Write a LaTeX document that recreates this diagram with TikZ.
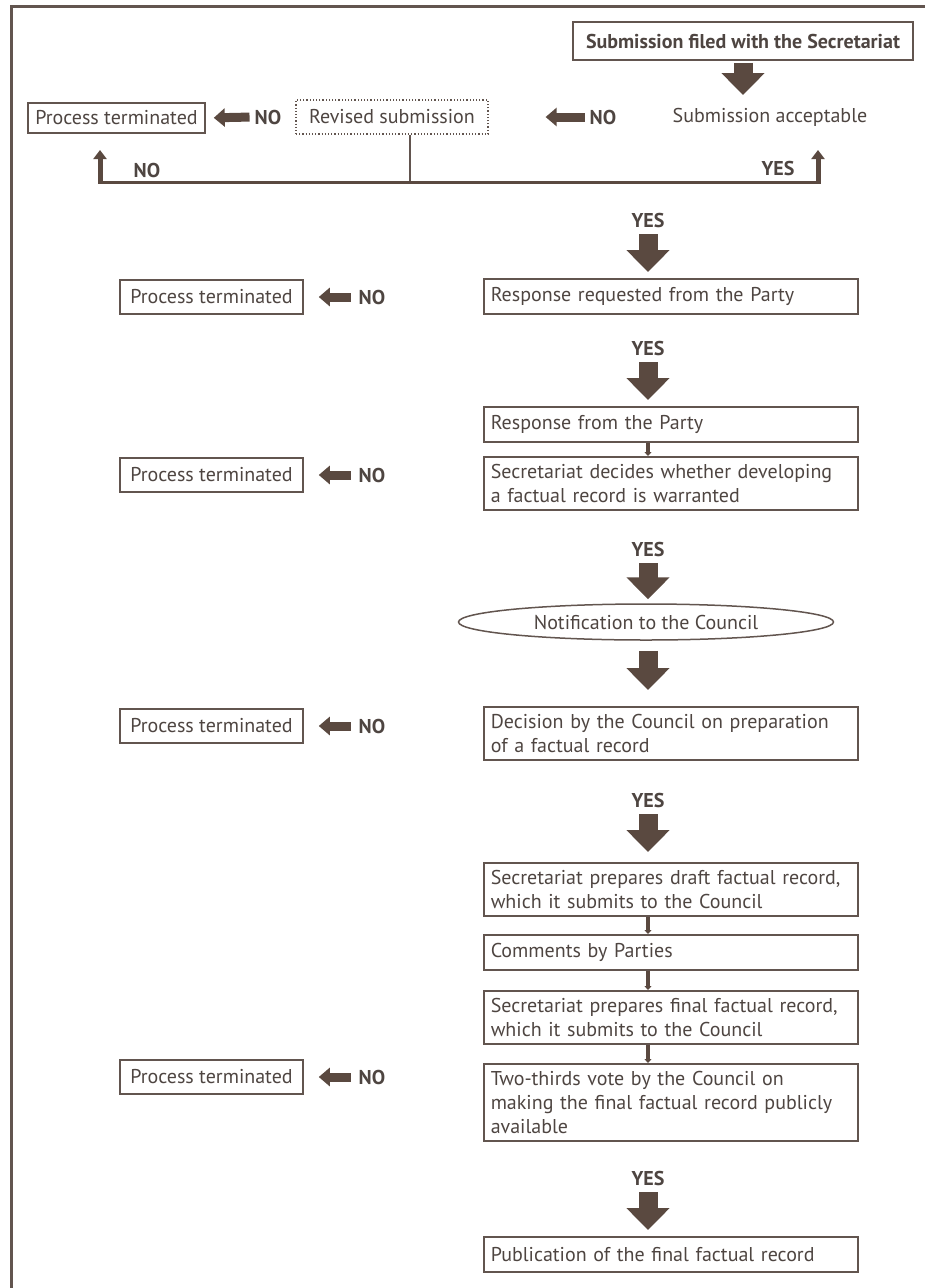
\documentclass[tikz,border=0pt]{standalone}
\usepackage{fontspec}
\setmainfont{PT Sans}
\usetikzlibrary{arrows.meta,shapes.geometric}

\definecolor{ink}{HTML}{4E4541}
\definecolor{edge}{HTML}{62554F}
\definecolor{tip}{HTML}{5A4940}

\newcommand{\boxfont}{\fontsize{20}{24}\selectfont}

\tikzset{
  stepbox/.style={draw=edge, line width=1.5pt, text=ink, anchor=north west, align=left,
    text width=360pt, inner xsep=7pt, inner ysep=7.5pt, minimum height=35pt},
  endbox/.style={draw=edge, line width=1.5pt, text=ink, minimum width=183pt, minimum height=34pt, inner sep=3pt},
  flag/.style={text=ink, font=\boxfont\bfseries, inner sep=2pt},
  bigarrow/.style={draw=tip, line width=19pt, -{Triangle[width=42pt,length=22pt]}},
  noarrow/.style={draw=tip, line width=9pt, -{Triangle[width=18pt,length=11pt]}},
  uparrow/.style={draw=tip, line width=5pt, -{Triangle[width=13pt,length=9pt]}},
  link/.style={draw=tip, line width=4pt, -{Triangle[width=7pt,length=4pt]}}
}

\begin{document}
\begin{tikzpicture}[x=1pt,y=1pt,yscale=-1,font=\boxfont]
  \useasboundingbox (0,0) rectangle (925,1288);
  \draw[edge, line width=3pt] (11,1288) -- (11,6) -- (925,6);

  % top part
  \node[draw=edge, line width=1.5pt, text=ink, font=\boxfont\bfseries, minimum width=340pt, minimum height=38pt, inner sep=2pt] (sub) at (743,41) {Submission filed with the Secretariat};
  \node[text=ink] (acc) at (770,117) {Submission acceptable};
  \node[draw=edge, line width=1.2pt, dotted, text=ink, minimum width=192pt, minimum height=34pt] (rev) at (392,117) {Revised submission};
  \node[endbox, minimum width=177pt, minimum height=30pt] (pt0) at (116.5,118) {Process terminated};
  \node[flag] (no0) at (268,117) {NO};
  \node[flag] (no1) at (603,117) {NO};
  \node[flag] (no2) at (147,170) {NO};
  \node[flag] (yes0) at (778,168) {YES};
  \coordinate (fork) at (410,182);
  \coordinate (cl) at (100,182);
  \coordinate (cr) at (818,182);
  \coordinate (tl) at (100,150);
  \coordinate (tr) at (818,150);

  \draw[bigarrow, shorten <=2pt] (sub.south -| 743,0) -- (743,95);
  \draw[noarrow, shorten <=3pt, shorten >=8pt] (no0.west) -- (pt0.east);
  \draw[noarrow, shorten <=3pt, shorten >=57pt] (no1.west) -- (rev.east);
  \draw[edge, line width=1.5pt] (rev.south -| fork) -- (fork);
  \draw[tip, line width=3pt] (cl) -- (cr);
  \draw[uparrow] ([yshift=1.5pt]cl) -- (tl);
  \draw[uparrow] ([yshift=1.5pt]cr) -- (tr);

  % main column
  \coordinate (spine) at (648,0);
  \node[flag] (y1) at (648,220) {YES};
  \node[stepbox] (b1) at (483,278) {Response requested from the Party};
  \node[flag] (y2) at (648,348) {YES};
  \node[stepbox] (b2) at (483,406) {Response from the Party};
  \node[stepbox] (b3) at (483,456) {Secretariat decides whether developing\\a factual record is warranted};
  \node[flag] (y3) at (648,549) {YES};
  \node[draw=edge, line width=1.5pt, ellipse, text=ink, minimum width=375pt, minimum height=36pt, inner sep=0pt] (ell) at (646,622) {Notification to the Council};
  \node[stepbox] (b4) at (483,706) {Decision by the Council on preparation\\of a factual record};
  \node[flag] (y4) at (648,800) {YES};
  \node[stepbox] (b5) at (483,862) {Secretariat prepares draft factual record,\\which it submits to the Council};
  \node[stepbox] (b6) at (483,934) {Comments by Parties};
  \node[stepbox] (b7) at (483,990) {Secretariat prepares final factual record,\\which it submits to the Council};
  \node[stepbox] (b8) at (483,1063) {Two-thirds vote by the Council on\\making the final factual record publicly\\available};
  \node[flag] (y5) at (648,1178) {YES};
  \node[stepbox] (b9) at (483,1236) {Publication of the final factual record};

  \draw[bigarrow, shorten <=5pt, shorten >=6pt] (y1.south) -- (y1.south |- b1.north);
  \draw[bigarrow, shorten <=5pt, shorten >=6pt] (y2.south) -- (y2.south |- b2.north);
  \draw[link] (b2.south -| spine) -- (b3.north -| spine);
  \draw[bigarrow, shorten <=5pt, shorten >=4pt] (y3.south) -- (y3.south |- ell.north);
  \draw[bigarrow, shorten <=10pt, shorten >=16pt] (ell.south -| spine) -- (b4.north -| spine);
  \draw[bigarrow, shorten <=5pt, shorten >=10pt] (y4.south) -- (y4.south |- b5.north);
  \draw[link] (b5.south -| spine) -- (b6.north -| spine);
  \draw[link] (b6.south -| spine) -- (b7.north -| spine);
  \draw[link] (b7.south -| spine) -- (b8.north -| spine);
  \draw[bigarrow, shorten <=5pt, shorten >=6pt] (y5.south) -- (y5.south |- b9.north);

  % terminations on the left
  \foreach \n/\row in {1/297, 2/475, 3/726, 4/1077} {
    \node[endbox] (pt\n) at (211.5,\row) {Process terminated};
    \node[flag] (no\n) at (372,\row) {NO};
    \draw[noarrow, shorten <=6pt, shorten >=15pt] (no\n.west) -- (pt\n.east);
  }
\end{tikzpicture}
\end{document}
